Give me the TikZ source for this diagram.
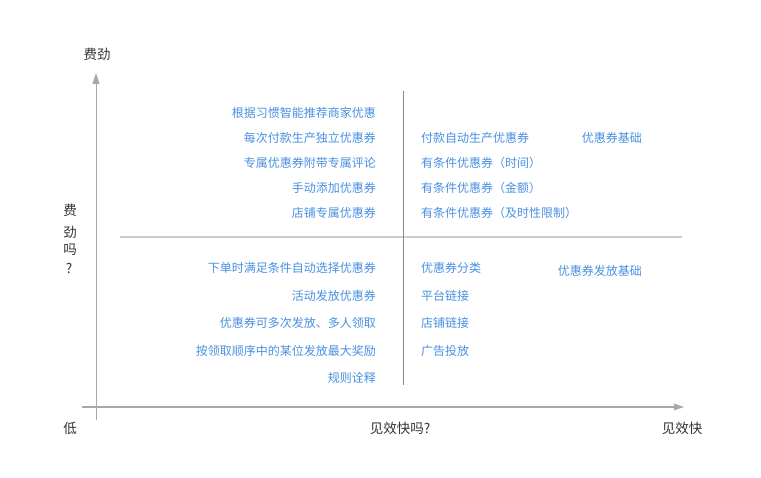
\documentclass[tikz,border=0pt]{standalone}
\usepackage{fontspec}
\setmainfont{Noto Sans CJK SC}
\usetikzlibrary{arrows.meta}
\definecolor{itemblue}{HTML}{4A90E2}
\definecolor{labgray}{HTML}{333333}
\definecolor{axgray}{HTML}{A8A8A8}
\definecolor{divgray}{HTML}{CCCCCC}
\definecolor{vgray}{HTML}{888888}
\tikzset{
  itemL/.style={anchor=east,inner sep=0pt,text=itemblue,font=\fontsize{12}{14}\selectfont},
  itemR/.style={anchor=west,inner sep=0pt,text=itemblue,font=\fontsize{12}{14}\selectfont},
  itemE/.style={anchor=east,inner sep=0pt,text=itemblue,font=\fontsize{12}{14}\selectfont},
  axlab/.style={inner sep=0pt,text=labgray,font=\fontsize{13.5}{15}\selectfont},
}
\begin{document}
\begin{tikzpicture}[x=1pt,y=-1pt]
\useasboundingbox[fill=white] (0,0) rectangle (761,478);
% coordinates
\coordinate (yb) at (96,420);
\coordinate (yt) at (96,73);
\coordinate (xl) at (82,407);
\coordinate (xr) at (685,407);
\coordinate (hl) at (120,237);
\coordinate (hr) at (682,237);
\coordinate (vt) at (403,91);
\coordinate (vb) at (403,385);
% dividers
\draw[divgray,line width=1.6pt] (hl) -- (hr);
\draw[vgray,line width=1pt] (vt) -- (vb);
% axes
\draw[axgray,line width=1pt,-{Triangle[length=11pt,width=7pt]}] (yb) -- (yt);
\draw[axgray,line width=2.4pt,-{Triangle[length=11pt,width=6pt]}] (xl) -- (xr);
% axis labels
\node[axlab] (top) at (97,54) {费劲};
\node[axlab] (v1) at (70,210) {费};
\node[axlab] (v2) at (70,232) {劲};
\node[axlab] (v3) at (70,250) {吗};
\node[axlab] (v4) at (69,268) {?};
\node[axlab] (low) at (70,428) {低};
\node[axlab] (mid) at (400,428) {见效快吗?};
\node[axlab] (fast) at (682,428) {见效快};
% upper left
\node[itemL] (a1) at (376,113) {根据习惯智能推荐商家优惠};
\node[itemL] (a2) at (376,138) {每次付款生产独立优惠券};
\node[itemL] (a3) at (376,163) {专属优惠券附带专属评论};
\node[itemL] (a4) at (376,188) {手动添加优惠券};
\node[itemL] (a5) at (376,213) {店铺专属优惠券};
% upper right
\node[itemR] (b1) at (421,138) {付款自动生产优惠券};
\node[itemR] (b2) at (421,163) {有条件优惠券（时间）};
\node[itemR] (b3) at (421,188) {有条件优惠券（金额）};
\node[itemR] (b4) at (421,213) {有条件优惠券（及时性限制）};
\node[itemE] (b5) at (642,138) {优惠券基础};
% lower left
\node[itemL] (c1) at (376,268) {下单时满足条件自动选择优惠券};
\node[itemL] (c2) at (376,296) {活动发放优惠券};
\node[itemL] (c3) at (376,323) {优惠券可多次发放、多人领取};
\node[itemL] (c4) at (376,351) {按领取顺序中的某位发放最大奖励};
\node[itemL] (c5) at (376,378) {规则诠释};
% lower right
\node[itemR] (d1) at (421,268) {优惠券分类};
\node[itemR] (d2) at (421,296) {平台链接};
\node[itemR] (d3) at (421,323) {店铺链接};
\node[itemR] (d4) at (421,351) {广告投放};
\node[itemE] (d5) at (642,271) {优惠券发放基础};
\end{tikzpicture}
\end{document}
